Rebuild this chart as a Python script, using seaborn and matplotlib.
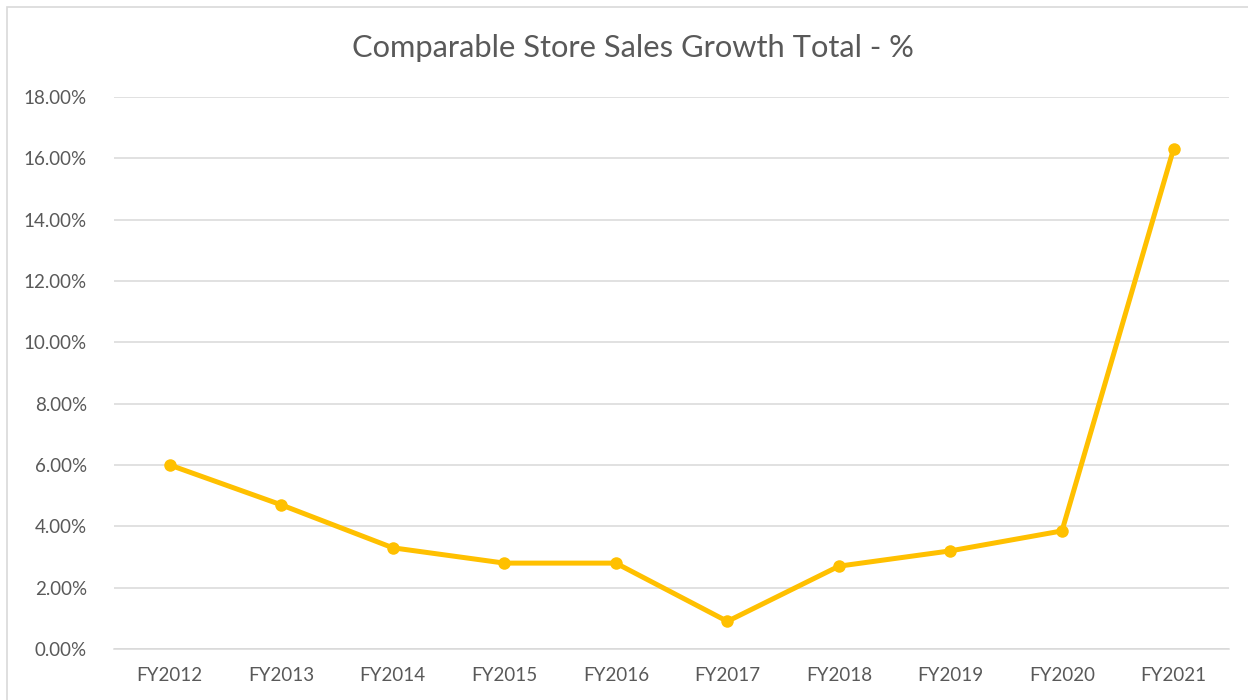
import numpy as np
import pandas as pd
import seaborn as sns
import matplotlib.pyplot as plt
from matplotlib.ticker import FuncFormatter
from matplotlib.patches import Rectangle

# Datos
anios = ['FY2012', 'FY2013', 'FY2014', 'FY2015', 'FY2016',
         'FY2017', 'FY2018', 'FY2019', 'FY2020', 'FY2021']
crecimiento = [6.0, 4.7, 3.3, 2.8, 2.8, 0.9, 2.7, 3.2, 3.85, 16.3]

df = pd.DataFrame({'anio': anios, 'valor': crecimiento})

sns.set_theme(style='white')
plt.rcParams['font.family'] = ['Lato', 'DejaVu Sans']

fig = plt.figure(figsize=(12.48, 7), dpi=100)
ax = fig.add_axes([0.0913, 0.0729, 0.8937, 0.7885])

# Borde exterior del gráfico
fig.patches.append(Rectangle((7 / 1248, -0.05), 1.1, 1 - 7 / 700 + 0.05,
                             transform=fig.transFigure, fill=False,
                             edgecolor='#D9D9D9', linewidth=1.2))

sns.lineplot(data=df, x='anio', y='valor', ax=ax, color='#FFC000',
             linewidth=3.6, marker='o', markersize=9, markeredgewidth=0,
             sort=False)

ax.set_xlim(-0.5, len(anios) - 0.5)
ax.set_ylim(0, 18)
ax.set_yticks(np.arange(0, 18.1, 2))
ax.yaxis.set_major_formatter(FuncFormatter(lambda v, p: f'{v:.2f}%'))
ax.grid(axis='y', color='#D9D9D9', linewidth=1.1)
ax.set_axisbelow(True)
for lado in ['top', 'right', 'left']:
    ax.spines[lado].set_visible(False)
ax.spines['bottom'].set_color('#D9D9D9')
ax.spines['bottom'].set_linewidth(1.1)

ax.tick_params(axis='both', length=0, labelsize=13.5, colors='#595959')
ax.tick_params(axis='y', pad=19.5)
ax.tick_params(axis='x', pad=13)
ax.set_xlabel('')
ax.set_ylabel('')

fig.text(0.507, 0.931, 'Comparable Store Sales Growth Total - %',
         ha='center', va='center', fontsize=22.2, color='#595959')

fig.savefig('out.png', dpi=100)
